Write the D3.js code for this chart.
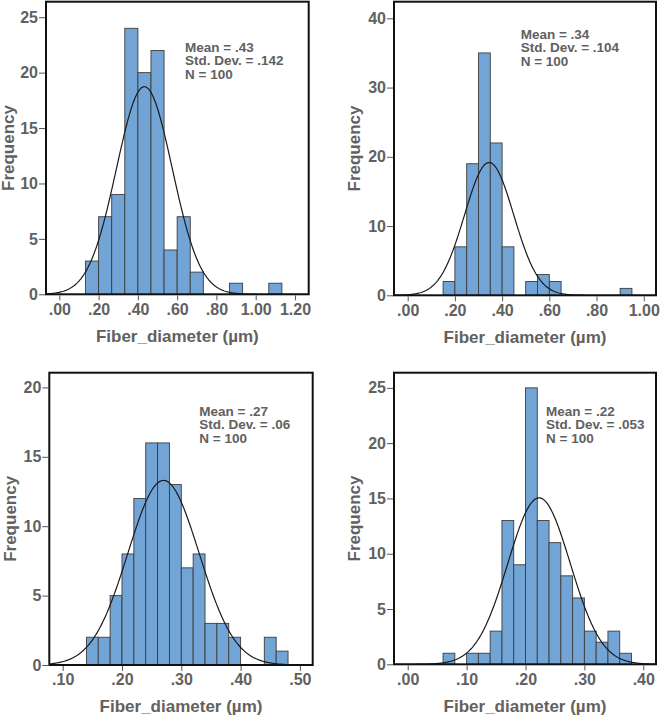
<!DOCTYPE html>
<html>
<head>
<meta charset="utf-8">
<script src="https://cdn.jsdelivr.net/npm/d3@7"></script>
<style>
  body { margin: 0; background: #fff; }
  text { font-family: "Liberation Sans", Arial, sans-serif; font-weight: bold; fill: #616161; }
</style>
</head>
<body>
<div id="chart"></div>
<script>
// histogram counts (bin start, bin width, counts)
const p1Start = 2 / 15, p1Width = 1 / 15;
const p1Counts = [3, 7, 9, 24, 20, 22, 4, 7, 2, 0, 0, 1, 0, 0, 1];
const p2Start = 0.15, p2Width = 0.05;
const p2Counts = [2, 7, 19, 35, 22, 7, 0, 2, 3, 2, 0, 0, 0, 0, 0, 1];
const p3Start = 0.14, p3Width = 0.02;
const p3Counts = [2, 2, 5, 8, 12, 16, 16, 13, 7, 8, 3, 3, 2, 0, 0, 2, 1];
const p4Start = 0.06, p4Width = 0.02;
const p4Counts = [1, 0, 1, 1, 3, 13, 9, 25, 13, 11, 8, 6, 3, 2, 3, 1];

// fitted normal curves
const curveMeans = [0.433, 0.345, 0.27, 0.223];
const curveSDs = [0.142, 0.104, 0.06, 0.053];
const nValues = [100, 100, 100, 100];

// legend labels
const statLabels = [
  ["Mean = .43", "Std. Dev. = .142", "N = 100"],
  ["Mean = .34", "Std. Dev. = .104", "N = 100"],
  ["Mean = .27", "Std. Dev. = .06", "N = 100"],
  ["Mean = .22", "Std. Dev. = .053", "N = 100"]
];

// ticks
const p1XTicks = [0, 0.2, 0.4, 0.6, 0.8, 1.0, 1.2];
const p2XTicks = [0, 0.2, 0.4, 0.6, 0.8, 1.0];
const p3XTicks = [0.1, 0.2, 0.3, 0.4, 0.5];
const p4XTicks = [0, 0.1, 0.2, 0.3, 0.4];
const p1YTicks = [0, 5, 10, 15, 20, 25];
const p2YTicks = [0, 10, 20, 30, 40];
const p3YTicks = [0, 5, 10, 15, 20];
const p4YTicks = [0, 5, 10, 15, 20, 25];

const xTitle = "Fiber_diameter (µm)";
const yTitle = "Frequency";

// layout of the four panels
const panels = [
  { start: p1Start, width: p1Width, counts: p1Counts, xTicks: p1XTicks, yTicks: p1YTicks,
    frame: { l: 46, t: 1.7, r: 308.7, b: 294.3 }, xDom: [-0.068, 1.270], yMax: 26.4, stat: [139, 46.6] },
  { start: p2Start, width: p2Width, counts: p2Counts, xTicks: p2XTicks, yTicks: p2YTicks,
    frame: { l: 394, t: 1.7, r: 656, b: 295.3 }, xDom: [-0.058, 1.052], yMax: 42.4, stat: [126.7, 33.3] },
  { start: p3Start, width: p3Width, counts: p3Counts, xTicks: p3XTicks, yTicks: p3YTicks,
    frame: { l: 49.3, t: 372.7, r: 312.7, b: 665 }, xDom: [0.0774, 0.5216], yMax: 21.06, stat: [150, 39.6] },
  { start: p4Start, width: p4Width, counts: p4Counts, xTicks: p4XTicks, yTicks: p4YTicks,
    frame: { l: 394, t: 372.7, r: 656, b: 664.3 }, xDom: [-0.0233, 0.4216], yMax: 26.37, stat: [152, 39.6] }
];

const svg = d3.select("#chart").append("svg")
  .attr("width", 660)
  .attr("height", 718);

const fmtX = v => d3.format(".2f")(v).replace(/^0\./, ".");

panels.forEach((p, i) => {
  const f = p.frame;
  const x = d3.scaleLinear().domain(p.xDom).range([f.l, f.r]);
  const y = d3.scaleLinear().domain([0, p.yMax]).range([f.b, f.t]);
  const g = svg.append("g");

  g.append("clipPath").attr("id", "clip" + i)
    .append("rect").attr("x", f.l).attr("y", f.t)
    .attr("width", f.r - f.l).attr("height", f.b - f.t);

  const bins = p.counts.map((c, k) => ({ x0: p.start + k * p.width, x1: p.start + (k + 1) * p.width, c: c }))
    .filter(d => d.c > 0);

  g.append("g").selectAll("rect")
    .data(bins)
    .enter()
    .append("rect")
    .attr("x", d => x(d.x0))
    .attr("width", d => x(d.x1) - x(d.x0))
    .attr("y", d => y(d.c))
    .attr("height", d => y(0) - y(d.c))
    .attr("fill", "#72a4d6")
    .attr("stroke", "#3d3d3d")
    .attr("stroke-width", 0.9);

  // normal curve
  const m = curveMeans[i], s = curveSDs[i];
  const scaleN = nValues[i] * p.width / (s * Math.sqrt(2 * Math.PI));
  const pts = d3.range(0, 301).map(k => {
    const v = p.xDom[0] + (p.xDom[1] - p.xDom[0]) * k / 300;
    return [v, scaleN * Math.exp(-0.5 * ((v - m) / s) ** 2)];
  });
  g.append("path")
    .datum(pts)
    .attr("clip-path", `url(#clip${i})`)
    .attr("fill", "none")
    .attr("stroke", "#1a1a1a")
    .attr("stroke-width", 1.2)
    .attr("d", d3.line().x(d => x(d[0])).y(d => y(d[1])));

  // frame
  g.append("rect")
    .attr("x", f.l).attr("y", f.t)
    .attr("width", f.r - f.l).attr("height", f.b - f.t)
    .attr("fill", "none")
    .attr("stroke", "#111")
    .attr("stroke-width", 2);

  // x axis
  const xa = g.append("g")
    .attr("transform", `translate(0,${f.b + 1})`)
    .call(d3.axisBottom(x).tickValues(p.xTicks).tickFormat(fmtX).tickSize(5).tickSizeOuter(0).tickPadding(3));
  xa.select(".domain").remove();
  xa.selectAll("line").attr("stroke", "#555");
  xa.selectAll("text").attr("font-size", 16).attr("fill", "#616161").attr("dy", "0.71em");

  // y axis
  const ya = g.append("g")
    .attr("transform", `translate(${f.l - 1},0)`)
    .call(d3.axisLeft(y).tickValues(p.yTicks).tickSize(6).tickSizeOuter(0).tickPadding(1));
  ya.select(".domain").remove();
  ya.selectAll("line").attr("stroke", "#555");
  ya.selectAll("text").attr("font-size", 16).attr("fill", "#616161");

  // titles
  g.append("text")
    .attr("x", (f.l + f.r) / 2)
    .attr("y", f.b + 43)
    .attr("text-anchor", "middle")
    .attr("dominant-baseline", "middle")
    .attr("font-size", 17)
    .text(xTitle);

  g.append("text")
    .attr("transform", `translate(${Math.max(f.l - 38, 9.5)},${(f.t + f.b) / 2}) rotate(-90)`)
    .attr("text-anchor", "middle")
    .attr("dominant-baseline", "middle")
    .attr("font-size", 17)
    .text(yTitle);

  // stats legend
  g.append("g").selectAll("text")
    .data(statLabels[i])
    .enter()
    .append("text")
    .attr("x", f.l + p.stat[0])
    .attr("y", (d, k) => f.t + p.stat[1] + k * 13.5)
    .attr("dominant-baseline", "middle")
    .attr("font-size", 13.5)
    .text(d => d);
});
</script>
</body>
</html>
